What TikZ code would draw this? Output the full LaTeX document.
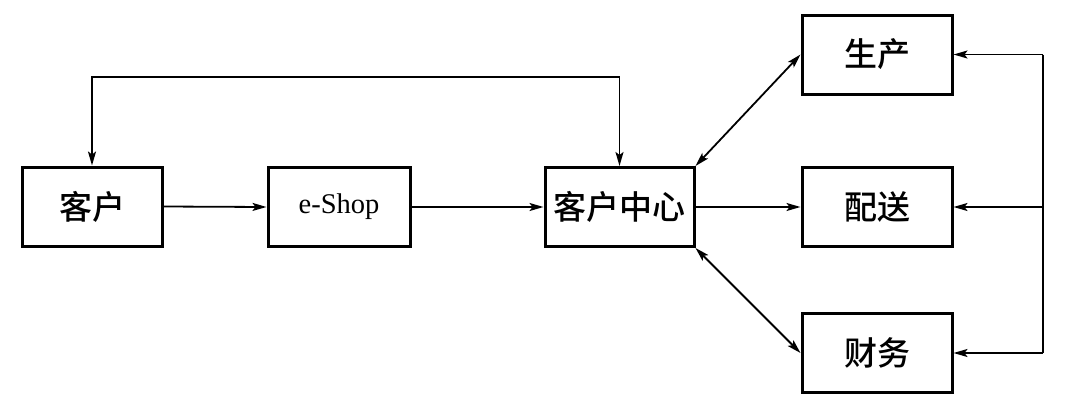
\documentclass[tikz,border=0pt]{standalone}
\usepackage{fontspec}
\setmainfont{Liberation Serif}
\newfontfamily\cjk{Noto Sans CJK SC Medium}
\usetikzlibrary{arrows.meta}
\begin{document}
\begin{tikzpicture}[x=1pt,y=-1pt,
  box/.style={draw,line width=3pt,minimum width=#1,minimum height=79pt,inner sep=0pt,font=\cjk\fontsize{33}{38}\selectfont},
  box/.default=142pt,
  conn/.style={line width=1.8pt,-{Stealth[length=14pt,width=8pt,inset=3pt]}},
  bconn/.style={line width=1.8pt,{Stealth[length=14pt,width=8pt,inset=3pt]}-{Stealth[length=14pt,width=8pt,inset=3pt]}}]
\useasboundingbox (0,0) rectangle (1071,410);
\node[box=140pt] (k) at (92,206.5) {客户};
\node[box=142pt,font=\fontsize{28.5}{32}\selectfont] (e) at (339,207) {e-Shop};
\node[box=149pt] (c) at (619.5,207) {客户中心};
\node[box=150pt] (s) at (877,54.5) {生产};
\node[box=150pt] (p) at (877,207) {配送};
\node[box=150pt] (f) at (877,353) {财务};
\coordinate (t) at (0,77);
\coordinate (r) at (1043,0);
\draw[conn] (k.east) -- (e.west);
\draw[conn] (e.east) -- (c.west);
\draw[conn] (c.east) -- (p.west);
\draw[bconn] (k.north) -- (k.north |- t) -- (c.north |- t) -- (c.north);
\draw[bconn] (c.north east) -- (s.west);
\draw[bconn] (c.south east) -- (f.west);
\draw[line width=1.8pt] (r |- s.east) -- (r |- f.east);
\draw[conn] (r |- s.east) -- (s.east);
\draw[conn] (r |- p.east) -- (p.east);
\draw[conn] (r |- f.east) -- (f.east);
\end{tikzpicture}
\end{document}
